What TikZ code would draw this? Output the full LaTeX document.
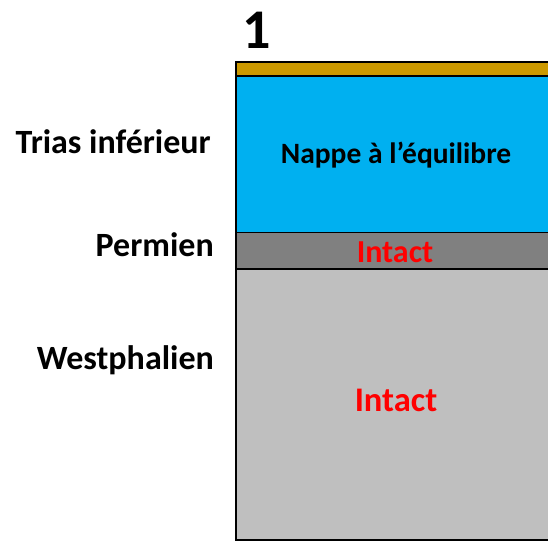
\documentclass[tikz,border=0pt]{standalone}
\usepackage{fontspec}
\setmainfont{Carlito}
\definecolor{brownc}{RGB}{204,153,0}
\definecolor{bluec}{RGB}{0,176,240}
\definecolor{darkg}{RGB}{128,128,128}
\definecolor{lightg}{RGB}{191,191,191}
\definecolor{redc}{RGB}{255,0,0}
\begin{document}
\begin{tikzpicture}[x=1pt,y=-1pt,
  layer/.style={draw=black,line width=1.2pt},
  lbl/.style={font=\bfseries\fontsize{34}{38}\selectfont,anchor=east,inner sep=0pt},
  red/.style={text=redc,inner sep=0pt}]
\useasboundingbox (0,0) rectangle (548,541);
\fill[lightg,layer] (236,269) rectangle (560,540);
\fill[darkg,layer] (236,232) rectangle (560,269);
\fill[bluec] (236,76) rectangle (560,232);
\draw[line width=1.2pt] (236,76) -- (236,232);
\fill[brownc,layer] (236,62) rectangle (560,76);
\node[font=\bfseries\fontsize{56}{60}\selectfont,inner sep=0pt] (num) at (257,30) {1};
\node[lbl] (trias) at (211,142) {Trias inférieur};
\node[lbl] (perm) at (214,245) {Permien};
\node[lbl] (west) at (214,360) {Westphalien};
\node[font=\bfseries\fontsize{29.5}{33}\selectfont,inner sep=0pt] (nappe) at (396,155) {Nappe à l’équilibre};
\node[red,font=\bfseries\fontsize{32}{36}\selectfont] (i1) at (395,252) {Intact};
\node[red,font=\bfseries\fontsize{34.5}{38}\selectfont] (i2) at (396,400) {Intact};
\end{tikzpicture}
\end{document}
